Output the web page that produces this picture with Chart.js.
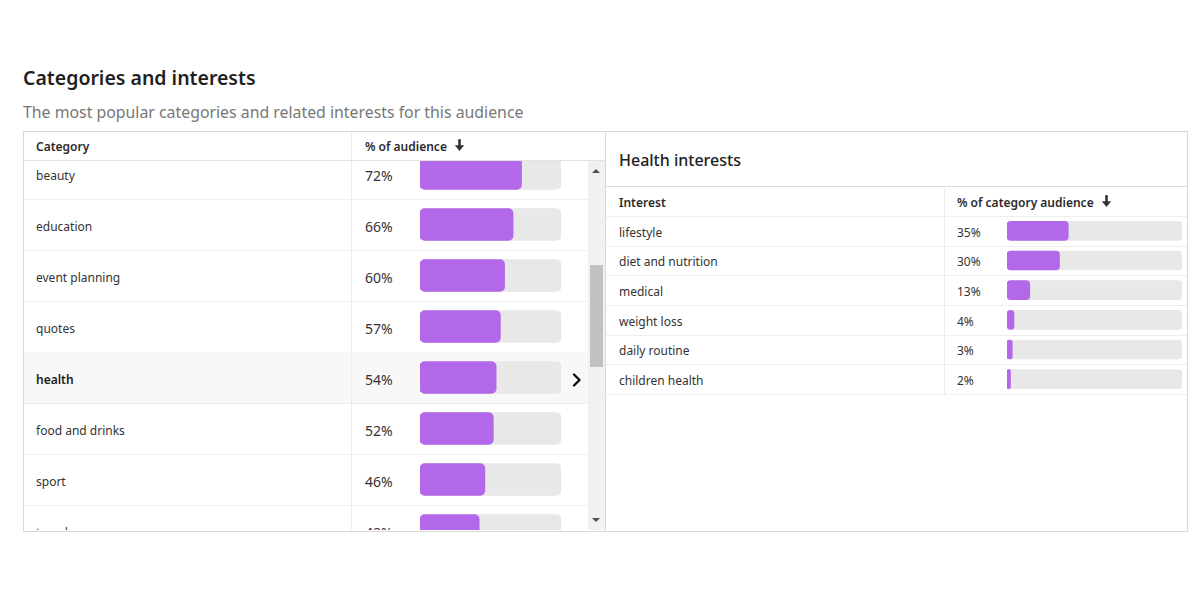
<!DOCTYPE html>
<html><head><meta charset="utf-8">
<script src="https://cdn.jsdelivr.net/npm/chart.js@4.4.0/dist/chart.umd.min.js"></script>
<style>
html,body{margin:0;padding:0;background:#fff;width:1200px;height:600px;overflow:hidden;font-family:"Noto Sans",sans-serif;color:#333;}
.a{position:absolute;box-sizing:border-box;white-space:nowrap;}
</style></head>
<body>
<script>
// ---------- data ----------
const pageTitle = 'Categories and interests';
const pageSubtitle = 'The most popular categories and related interests for this audience';
const categoryHeader = 'Category';
const categoryValueHeader = '% of audience';
const categories = ['beauty','education','event planning','quotes','health','food and drinks','sport','travel'];
const categoryShare = [72,66,60,57,54,52,46,42];
const selectedCategory = 'health';
const interestTitle = 'Health interests';
const interestHeader = 'Interest';
const interestValueHeader = '% of category audience';
const interests = ['lifestyle','diet and nutrition','medical','weight loss','daily routine','children health'];
const interestShare = [35,30,13,4,3,2];
const trackMax = 100;

const PURPLE = '#b268e8';
const TRACK = '#e8e8e8';
const ARROW = '<svg width="11" height="13" viewBox="0 0 11 13" style="vertical-align:-1px;margin-left:7px"><path d="M5.5 1.2 V8" stroke="#333" stroke-width="2.6" stroke-linecap="round"/><path d="M0.8 6.2 L5.5 12 L10.2 6.2 Z" fill="#333"/></svg>';

function el(parent, css, text){
  const d = document.createElement('div');
  d.className = 'a';
  d.style.cssText = css;
  if (text !== undefined) d.textContent = text;
  parent.appendChild(d);
  return d;
}
const body = document.body;

// ---------- titles ----------
el(body,'left:23px;top:63px;font-size:19.5px;font-weight:600;color:#1f1f1f;line-height:30px;',pageTitle);
el(body,'left:23px;top:100px;font-size:15.85px;color:#777;line-height:24px;',pageSubtitle);

// ---------- left panel ----------
el(body,'left:23px;top:131px;width:583px;height:401px;border:1px solid #d9d9d9;');
el(body,'left:24px;top:160px;width:581px;height:1px;background:#e2e2e2;');
el(body,'left:351px;top:132px;width:1px;height:28px;background:#ececec;');
el(body,'left:36px;top:132px;height:28px;line-height:30px;font-size:12px;font-weight:600;color:#2b2b2b;',categoryHeader);
const lh = el(body,'left:365px;top:132px;height:28px;line-height:30px;font-size:12px;font-weight:600;color:#2b2b2b;');
lh.innerHTML = categoryValueHeader + ARROW;

const clip = el(body,'left:24px;top:161px;width:564px;height:369px;overflow:hidden;');
const ROW0 = -13, ROWH = 51;
categories.forEach((c,i)=>{
  const top = ROW0 + ROWH*i;
  const sel = c === selectedCategory;
  if (sel) el(clip,`left:0;top:${top}px;width:564px;height:${ROWH}px;background:#f8f8f8;`);
  el(clip,`left:12px;top:${top+1.5}px;height:${ROWH}px;line-height:${ROWH}px;font-size:12px;color:#333;${sel?'font-weight:600;color:#222;':''}`,c);
  el(clip,`left:341px;top:${top+1.5}px;height:${ROWH}px;line-height:${ROWH}px;font-size:14px;color:#333;`,categoryShare[i]+'%');
  el(clip,`left:0;top:${top+ROWH}px;width:564px;height:1px;background:#eeeeee;`);
  if (sel){
    const sv = el(clip,`left:547px;top:${top+19}px;width:12px;height:16px;`);
    sv.innerHTML = '<svg width="12" height="16" viewBox="0 0 12 16"><polyline points="3,2.5 8.5,8 3,13.5" fill="none" stroke="#111" stroke-width="2.4" stroke-linecap="round" stroke-linejoin="round"/></svg>';
  }
});
el(clip,'left:327px;top:0;width:1px;height:369px;background:#ececec;');

const leftCanvas = document.createElement('canvas');
leftCanvas.width = 141; leftCanvas.height = ROWH*categories.length;
leftCanvas.style.cssText = `position:absolute;left:396px;top:${ROW0}px;width:141px;height:${ROWH*categories.length}px;`;
clip.appendChild(leftCanvas);

// scrollbar
el(body,'left:588px;top:161px;width:17px;height:369px;background:#f1f1f1;');
el(body,'left:590px;top:265px;width:13px;height:102px;background:#c1c1c1;');
el(body,'left:592px;top:169px;width:0;height:0;border-left:4px solid transparent;border-right:4px solid transparent;border-bottom:4px solid #505050;');
el(body,'left:592px;top:518px;width:0;height:0;border-left:4px solid transparent;border-right:4px solid transparent;border-top:4px solid #505050;');

// ---------- right panel ----------
el(body,'left:605px;top:131px;width:583px;height:401px;border:1px solid #d9d9d9;');
el(body,'left:619px;top:146px;line-height:28px;font-size:16px;font-weight:500;color:#222;',interestTitle);
el(body,'left:606px;top:186px;width:581px;height:1px;background:#dcdcdc;');
el(body,'left:619px;top:187px;height:29px;line-height:31px;font-size:12px;font-weight:600;color:#2b2b2b;',interestHeader);
const rh = el(body,'left:957px;top:187px;height:29px;line-height:31px;font-size:12px;font-weight:600;color:#2b2b2b;');
rh.innerHTML = interestValueHeader + ARROW;
el(body,'left:606px;top:216px;width:581px;height:1px;background:#eeeeee;');
const RROW0 = 216, RROWH = 178/6;
interests.forEach((t,i)=>{
  const top = RROW0 + RROWH*i;
  el(body,`left:619px;top:${top+1.5}px;height:${RROWH}px;line-height:${RROWH+1}px;font-size:12px;color:#333;`,t);
  el(body,`left:957px;top:${top+1.5}px;height:${RROWH}px;line-height:${RROWH+1}px;font-size:12px;color:#333;`,interestShare[i]+'%');
  el(body,`left:606px;top:${Math.round(top+RROWH)}px;width:581px;height:1px;background:#eeeeee;`);
});
el(body,'left:944px;top:187px;width:1px;height:208px;background:#ececec;');

const rightCanvas = document.createElement('canvas');
rightCanvas.width = 175; rightCanvas.height = 178;
rightCanvas.style.cssText = 'position:absolute;left:1007px;top:216px;width:175px;height:178px;';
body.appendChild(rightCanvas);

// ---------- charts ----------
function barChart(canvas, labels, values, thickness, radius){
  return new Chart(canvas, {
    type:'bar',
    data:{labels, datasets:[
      {data: values, backgroundColor: PURPLE, barThickness: thickness, borderRadius: radius, borderSkipped:false, grouped:false},
      {data: labels.map(()=>trackMax), backgroundColor: TRACK, barThickness: thickness, borderRadius: radius, borderSkipped:false, grouped:false}
    ]},
    options:{
      indexAxis:'y', responsive:false, animation:false, devicePixelRatio:1,
      layout:{padding:0},
      plugins:{legend:{display:false}, tooltip:{enabled:false}},
      scales:{x:{display:false,min:0,max:trackMax}, y:{display:false}}
    }
  });
}
barChart(leftCanvas, categories, categoryShare, 32, 5);
barChart(rightCanvas, interests, interestShare, 19, 4);
</script>
</body></html>
